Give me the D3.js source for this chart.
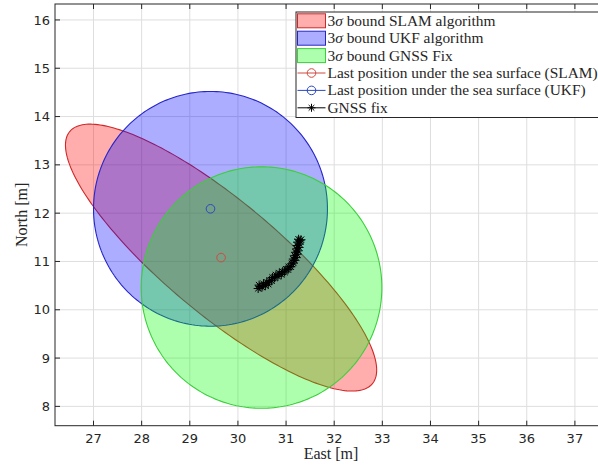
<!DOCTYPE html>
<html>
<head>
<meta charset="utf-8">
<script src="https://cdn.jsdelivr.net/npm/d3@7/dist/d3.min.js"></script>
<style>
  html, body { margin: 0; padding: 0; background: #fff; }
  svg { display: block; }
</style>
</head>
<body>
<svg id="chart" width="598" height="465"></svg>
<script>
// 3-sigma confidence ellipses: centre (East, North), semi-axes [m], orientation [deg from East]
const boundNames   = ["SLAM", "UKF", "GNSS"];
const boundCenters = [[29.65, 11.08], [29.43, 12.09], [30.49, 10.46]];
const boundAxes    = [[4.086, 1.178], [2.43, 2.43], [2.50, 2.50]];
const boundAngles  = [-39.7, 0, 0];

// Last estimated positions before surfacing
const lastSLAM = [29.65, 11.08];
const lastUKF  = [29.43, 12.09];

// GNSS fixes received at the surface (East, North)
const gnssFixes = [
  [30.42, 10.44], [30.46, 10.48], [30.44, 10.51], [30.50, 10.47], [30.53, 10.54],
  [30.57, 10.50], [30.60, 10.57], [30.63, 10.53], [30.66, 10.61], [30.70, 10.60],
  [30.72, 10.67], [30.76, 10.66], [30.79, 10.72], [30.83, 10.69], [30.86, 10.76],
  [30.90, 10.73], [30.93, 10.79], [30.97, 10.78], [31.00, 10.84], [31.04, 10.83],
  [31.06, 10.89], [31.10, 10.89], [31.12, 10.95], [31.15, 10.97], [31.17, 11.02],
  [31.15, 11.05], [31.21, 11.08], [31.18, 11.12], [31.23, 11.15], [31.20, 11.19],
  [31.25, 11.22], [31.22, 11.26], [31.27, 11.29], [31.23, 11.33], [31.28, 11.36],
  [31.24, 11.40], [31.29, 11.43], [31.26, 11.46], [31.31, 11.45]
];

const xTicks = [27, 28, 29, 30, 31, 32, 33, 34, 35, 36, 37];
const yTicks = [8, 9, 10, 11, 12, 13, 14, 15, 16];

const legendLabels = [
  "bound SLAM algorithm",
  "bound UKF algorithm",
  "bound GNSS Fix",
  "Last position under the sea surface (SLAM)",
  "Last position under the sea surface (UKF)",
  "GNSS fix"
];

// ---- layout ----
const plot = { left: 55, right: 607, top: 4, bottom: 425.7 };
const x = d3.scaleLinear().domain([26.2, 37.667]).range([plot.left, plot.right]);
const y = d3.scaleLinear().domain([7.6, 16.33]).range([plot.bottom, plot.top]);

const fills  = ["#ff0000", "#0000ff", "#00ff00"];
const edges  = ["#d02828", "#2626c8", "#3ccf3c"];
const axisColor = "#262626";

const svg = d3.select("#chart");

// grid
const grid = svg.append("g");
grid.selectAll("line.gx").data(xTicks).join("line")
  .attr("x1", d => x(d)).attr("x2", d => x(d))
  .attr("y1", plot.top).attr("y2", plot.bottom)
  .attr("stroke", "#dedede").attr("stroke-width", 1);
grid.selectAll("line.gy").data(yTicks).join("line")
  .attr("x1", plot.left).attr("x2", plot.right)
  .attr("y1", d => y(d)).attr("y2", d => y(d))
  .attr("stroke", "#dedede").attr("stroke-width", 1);

// confidence ellipses, traced through the data scales
function ellipsePoints(c, ax, angDeg) {
  const th = angDeg * Math.PI / 180;
  const pts = [];
  for (let i = 0; i <= 240; i++) {
    const t = 2 * Math.PI * i / 240;
    const u = ax[0] * Math.cos(t), v = ax[1] * Math.sin(t);
    pts.push([c[0] + u * Math.cos(th) - v * Math.sin(th),
              c[1] + u * Math.sin(th) + v * Math.cos(th)]);
  }
  return pts;
}
const line = d3.line().x(d => x(d[0])).y(d => y(d[1]));

svg.append("clipPath").attr("id", "plotClip")
  .append("rect").attr("x", plot.left).attr("y", plot.top)
  .attr("width", plot.right - plot.left).attr("height", plot.bottom - plot.top);

const dataG = svg.append("g").attr("clip-path", "url(#plotClip)");
boundNames.forEach((n, i) => {
  dataG.append("path")
    .attr("d", line(ellipsePoints(boundCenters[i], boundAxes[i], boundAngles[i])) + "Z")
    .attr("fill", fills[i]).attr("fill-opacity", 0.32)
    .attr("stroke", edges[i]).attr("stroke-width", 1.1);
});

// last positions
dataG.append("circle").attr("cx", x(lastSLAM[0])).attr("cy", y(lastSLAM[1]))
  .attr("r", 4.3).attr("fill", "none").attr("stroke", "#d04a40").attr("stroke-width", 1);
dataG.append("circle").attr("cx", x(lastUKF[0])).attr("cy", y(lastUKF[1]))
  .attr("r", 4.3).attr("fill", "none").attr("stroke", "#2c48c0").attr("stroke-width", 1);

// asterisk marker (plus + cross)
function starPath(cx, cy, r) {
  const d = r * 0.7071;
  return `M${cx - r},${cy}L${cx + r},${cy}M${cx},${cy - r}L${cx},${cy + r}` +
         `M${cx - d},${cy - d}L${cx + d},${cy + d}M${cx - d},${cy + d}L${cx + d},${cy - d}`;
}
dataG.append("path").attr("d", line(gnssFixes))
  .attr("fill", "none").attr("stroke", "#000").attr("stroke-width", 1);
dataG.append("g").selectAll("path").data(gnssFixes).join("path")
  .attr("d", d => starPath(x(d[0]), y(d[1]), 4.5))
  .attr("stroke", "#000").attr("stroke-width", 1).attr("fill", "none");

// axes box and ticks
const tickLen = 5;
svg.append("rect").attr("x", plot.left).attr("y", plot.top)
  .attr("width", plot.right - plot.left).attr("height", plot.bottom - plot.top)
  .attr("fill", "none").attr("stroke", axisColor).attr("stroke-width", 1);

const ticksG = svg.append("g").attr("stroke", axisColor).attr("stroke-width", 1);
xTicks.forEach(t => {
  ticksG.append("line").attr("x1", x(t)).attr("x2", x(t)).attr("y1", plot.bottom).attr("y2", plot.bottom - tickLen);
  ticksG.append("line").attr("x1", x(t)).attr("x2", x(t)).attr("y1", plot.top).attr("y2", plot.top + tickLen);
});
yTicks.forEach(t => {
  ticksG.append("line").attr("y1", y(t)).attr("y2", y(t)).attr("x1", plot.left).attr("x2", plot.left + tickLen);
  ticksG.append("line").attr("y1", y(t)).attr("y2", y(t)).attr("x1", plot.right).attr("x2", plot.right - tickLen);
});

const tickFont = "'DejaVu Sans', sans-serif";
svg.append("g").selectAll("text").data(xTicks).join("text")
  .attr("x", d => x(d)).attr("y", 443.3).attr("text-anchor", "middle")
  .attr("font-family", tickFont).attr("font-size", 13).attr("fill", axisColor)
  .text(d => d);
svg.append("g").selectAll("text").data(yTicks).join("text")
  .attr("x", 50).attr("y", d => y(d) + 4.6).attr("text-anchor", "end")
  .attr("font-family", tickFont).attr("font-size", 13).attr("fill", axisColor)
  .text(d => d);

// axis titles
const serif = "'Liberation Serif', 'Times New Roman', serif";
svg.append("text").attr("x", (plot.left + plot.right) / 2).attr("y", 459)
  .attr("text-anchor", "middle").attr("font-family", serif).attr("font-size", 16)
  .attr("fill", axisColor).text("East [m]");
svg.append("text")
  .attr("transform", `translate(27,${(plot.top + plot.bottom) / 2}) rotate(-90)`)
  .attr("text-anchor", "middle").attr("font-family", serif).attr("font-size", 16)
  .attr("fill", axisColor).text("North [m]");

// legend
const lg = svg.append("g").attr("transform", "translate(296,12)");
lg.append("rect").attr("x", 0).attr("y", 0).attr("width", 304).attr("height", 105.5)
  .attr("fill", "#fff").attr("stroke", axisColor).attr("stroke-width", 1);
const rowH = 17.4, row0 = 8.8;
legendLabels.forEach((lab, i) => {
  const cy = row0 + i * rowH;
  if (i < 3) {
    lg.append("rect").attr("x", 1.5).attr("y", cy - 7).attr("width", 28).attr("height", 14)
      .attr("fill", fills[i]).attr("fill-opacity", 0.32)
      .attr("stroke", edges[i]).attr("stroke-width", 1);
  } else {
    const col = i === 3 ? "#d04a40" : i === 4 ? "#2c48c0" : "#000";
    lg.append("line").attr("x1", 1.5).attr("x2", 29.5).attr("y1", cy).attr("y2", cy)
      .attr("stroke", col).attr("stroke-width", 1);
    if (i < 5) {
      lg.append("circle").attr("cx", 15.5).attr("cy", cy).attr("r", 4.3)
        .attr("fill", "none").attr("stroke", col).attr("stroke-width", 1);
    } else {
      lg.append("path").attr("d", starPath(15.5, cy, 4)).attr("stroke", "#000").attr("stroke-width", 1);
    }
  }
  const t = lg.append("text").attr("x", 31.5).attr("y", cy + 5)
    .attr("font-family", serif).attr("font-size", 15.4).attr("fill", axisColor);
  if (i < 3) {
    t.append("tspan").text("3");
    t.append("tspan").attr("font-style", "italic").text("σ");
    t.append("tspan").text(" " + lab);
  } else {
    t.text(lab);
  }
});
</script>
</body>
</html>
